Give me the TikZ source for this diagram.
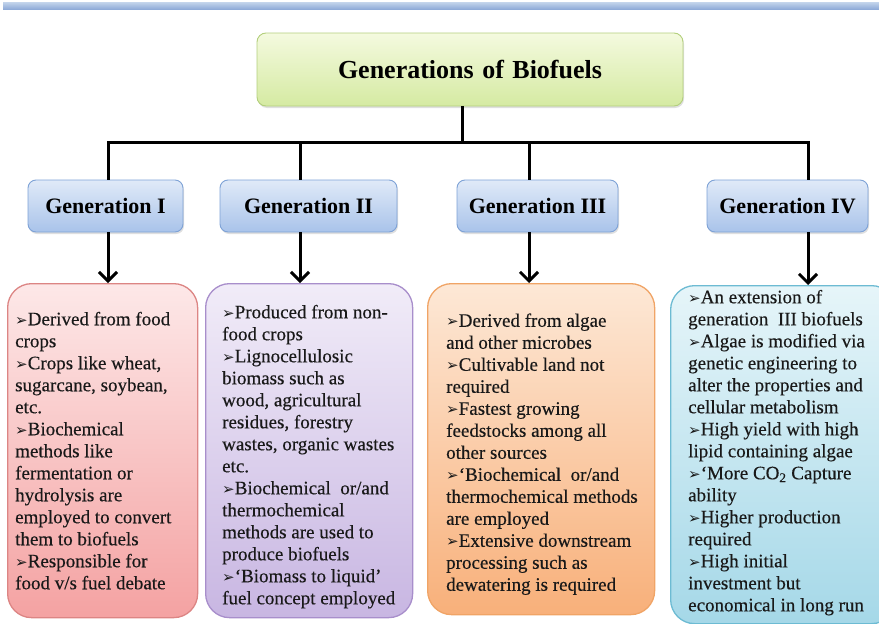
\documentclass[tikz,border=0pt]{standalone}
\usepackage{fontspec}
\setmainfont{Liberation Serif}
\newfontfamily\symfont{DejaVu Sans}
\newfontfamily\bodyfont{Liberation Serif}[FakeBold=0.35]
\usetikzlibrary{arrows.meta,shadows}
\newcommand{\bl}{{\symfont\fontsize{15}{15}\selectfont ➢}}
\definecolor{barT}{HTML}{C4D5EC}
\definecolor{barB}{HTML}{8FABD8}
\definecolor{titT}{HTML}{F4FADF}
\definecolor{titB}{HTML}{D5EAA2}
\definecolor{titD}{HTML}{B3CF7C}
\definecolor{genT}{HTML}{E0EAF8}
\definecolor{genB}{HTML}{A9C3EA}
\definecolor{genD}{HTML}{7EA2D6}
\definecolor{redT}{HTML}{FDE8E8}
\definecolor{redB}{HTML}{F4A2A2}
\definecolor{redD}{HTML}{DC8584}
\definecolor{purT}{HTML}{F1ECF8}
\definecolor{purB}{HTML}{C8B6E2}
\definecolor{purD}{HTML}{A88ECB}
\definecolor{orT}{HTML}{FDE8D6}
\definecolor{orB}{HTML}{F8B07A}
\definecolor{orD}{HTML}{F0A466}
\definecolor{cyT}{HTML}{E6F5F9}
\definecolor{cyB}{HTML}{A5D8E8}
\definecolor{cyD}{HTML}{6DBBD3}
\begin{document}
\spaceskip=3.8pt plus 1pt minus 0.5pt\relax
\begin{tikzpicture}[x=1pt,y=-1pt,
  titlebox/.style={draw=titD, line width=0.9pt, rounded corners=9pt, top color=titT, bottom color=titB,
    minimum width=426pt, minimum height=73pt, font=\fontsize{26}{30}\selectfont\bfseries,
    drop shadow={shadow xshift=1pt, shadow yshift=-2pt, opacity=0.25}},
  genbox/.style={draw=genD, line width=0.9pt, rounded corners=8pt, top color=genT, bottom color=genB,
    minimum height=52pt, font=\fontsize{22}{26}\selectfont\bfseries,
    drop shadow={shadow xshift=1pt, shadow yshift=-2pt, opacity=0.25}},
  cbox/.style={line width=1.3pt, rounded corners=24pt, anchor=north west},
  ctext/.style={align=left, anchor=west, inner sep=0pt, text=black!90, font=\bodyfont\fontsize{19}{22}\selectfont},
  conn/.style={line width=3pt, line join=miter},
  arr/.style={line width=3pt, -{Straight Barb[length=9pt,width=18pt]}}
]
\useasboundingbox (0,0) rectangle (879,624);
\fill[top color=barT, bottom color=barB] (3,2) rectangle (879,9);

\node[titlebox] (title) at (470,69.5) {Generations\hspace{2pt} of\hspace{2pt} Biofuels};

\node[genbox, minimum width=155pt] (g1) at (105.5,206) {Generation I};
\node[genbox, minimum width=177pt] (g2) at (308.5,206) {Generation II};
\node[genbox, minimum width=161pt] (g3) at (537.5,206) {Generation III};
\node[genbox, minimum width=161pt] (g4) at (787.5,206) {Generation IV};

\node[cbox, draw=redD, top color=redT, bottom color=redB, minimum width=190pt, minimum height=334pt] (c1) at (7,283) {};
\node[cbox, draw=purD, top color=purT, bottom color=purB, minimum width=207pt, minimum height=334pt] (c2) at (205,283) {};
\node[cbox, draw=orD, top color=orT, bottom color=orB, minimum width=227pt, minimum height=331pt] (c3) at (427,283) {};
\node[cbox, draw=cyD, top color=cyT, bottom color=cyB, minimum width=225pt, minimum height=338pt] (c4) at (670,285) {};

\coordinate (hub) at (462,142);
\coordinate (h1) at (108,142);
\coordinate (h2) at (300,142);
\coordinate (h3) at (529,142);
\coordinate (h4) at (808,142);

\draw[conn] (title.south -| hub) -- (hub);
\draw[conn] (g1.north -| h1) -- (h1) -- (h4) -- (g4.north -| h4);
\draw[conn] (h2) -- (g2.north -| h2);
\draw[conn] (h3) -- (g3.north -| h3);

\draw[arr] (g1.south -| h1) -- (c1.north -| h1);
\draw[arr] (g2.south -| h2) -- (c2.north -| h2);
\draw[arr] (g3.south -| h3) -- (c3.north -| h3);
\draw[arr] (g4.south -| h4) -- (c4.north -| h4);

\node[ctext] (t1) at ([xshift=8pt]c1.west) {%
\bl Derived from food\\
crops\\
\bl Crops like wheat,\\
sugarcane, soybean,\\
etc.\\
\bl Biochemical\\
methods like\\
fermentation or\\
hydrolysis are\\
employed to convert\\
them to biofuels\\
\bl Responsible for\\
food v/s fuel debate};

\node[ctext] (t2) at ([xshift=17pt,yshift=-6pt]c2.west) {%
\bl Produced from non-\\
food crops\\
\bl Lignocellulosic\\
biomass such as\\
wood, agricultural\\
residues, forestry\\
wastes, organic wastes\\
etc.\\
\bl Biochemical\ \ or/and\\
thermochemical\\
methods are used to\\
produce biofuels\\
\bl ‘Biomass to liquid’\\
fuel concept employed};

\node[ctext] (t3) at ([xshift=19pt,yshift=-5pt]c3.west) {%
\bl Derived from algae\\
and other microbes\\
\bl Cultivable land not\\
required\\
\bl Fastest growing\\
feedstocks among all\\
other sources\\
\bl ‘Biochemical\ \ or/and\\
thermochemical methods\\
are employed\\
\bl Extensive downstream\\
processing such as\\
dewatering is required};

\node[ctext] (t4) at ([xshift=18pt,yshift=2pt]c4.west) {%
\bl An extension of\\
generation\ \ III biofuels\\
\bl Algae is modified via\\
genetic engineering to\\
alter the properties and\\
cellular metabolism\\
\bl High yield with high\\
lipid containing algae\\
\bl ‘More CO\textsubscript{2} Capture\\
ability\\
\bl Higher production\\
required\\
\bl High initial\\
investment but\\
economical in long run};
\end{tikzpicture}
\end{document}
